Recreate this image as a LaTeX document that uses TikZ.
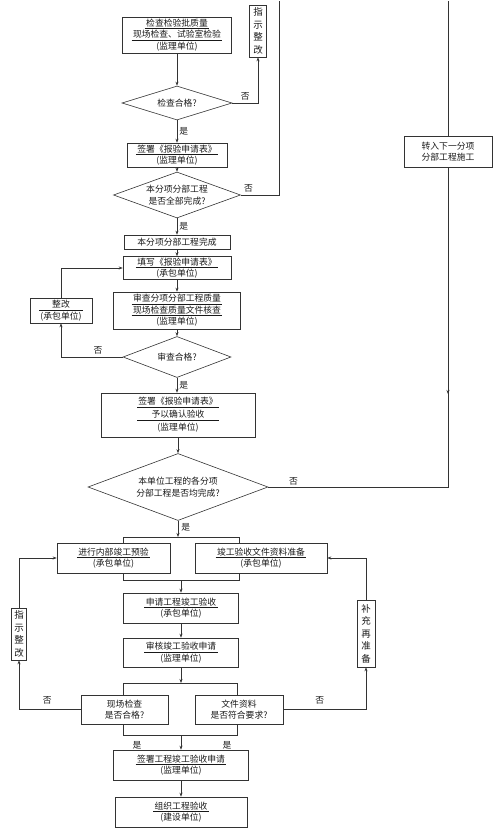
\documentclass[tikz,border=0pt]{standalone}
\usepackage{fontspec}
\newfontfamily\cjk{Noto Sans CJK SC}
\usetikzlibrary{shapes.geometric,arrows.meta}
\newcommand\myul[1]{\underline{\,#1\,}}
\newcommand\myulw[2]{\underline{\makebox[#1]{#2}}}
\begin{document}
\begin{tikzpicture}[x=1pt,y=-1pt,
  every node/.style={font=\cjk\fontsize{8.8}{11.5}\selectfont, text=black!90},
  box/.style={draw=black!80, line width=0.6pt, rectangle, inner sep=0pt, align=center},
  dia/.style={draw=black!80, line width=0.6pt, diamond, inner sep=0pt, align=center, aspect=2.7},
  vbox/.style={draw=black!80, line width=0.6pt, rectangle, inner sep=0pt, align=center, font=\cjk\fontsize{9.5}{12.5}\selectfont},
  ln/.style={draw=black!80, line width=0.6pt},
  arr/.style={ln, -{Stealth[length=4pt,width=3pt]}},
  lbl/.style={inner sep=0pt, font=\cjk\fontsize{8.8}{10}\selectfont}
]
\useasboundingbox (0,0) rectangle (497,840);

% upper column
\node[box, minimum width=109pt, minimum height=36pt] (n1) at (177,35) {\myul{检查检验批质量}\\\myul{现场检查、试验室检验}\\(监理单位)};
\node[vbox, minimum width=17pt, minimum height=52pt] (zs1) at (258,31) {指\\示\\整\\改};
\node[dia, minimum width=110pt, minimum height=34pt] (d1) at (177,103) {检查合格?};
\node[box, minimum width=100pt, minimum height=24pt] (n2) at (177,155) {\myul{签署《报验申请表》}\\(监理单位)};
\node[dia, minimum width=127pt, minimum height=46pt] (d2) at (177,195) {本分项分部工程\\是否全部完成?};
\node[box, minimum width=106pt, minimum height=14pt] (n3) at (177,242) {本分项分部工程完成};
\node[box, minimum width=108pt, minimum height=23pt] (n4) at (177,268) {\myul{填写《报验申请表》}\\(承包单位)};
\node[box, minimum width=62pt, minimum height=25pt] (zg) at (61,310.5) {\myulw{44pt}{整改}\\(承包单位)};
\node[box, minimum width=127pt, minimum height=37pt] (n5) at (177,310.5) {\myul{审查分项分部工程质量}\\\myul{现场检查质量文件核查}\\(监理单位)};
\node[dia, minimum width=108pt, minimum height=41pt] (d3) at (177,357) {审查合格?};
\node[box, minimum width=154pt, minimum height=44pt] (n6) at (178,415) {\myulw{82pt}{签署《报验申请表》}\\[1.5pt]\myulw{82pt}{予以确认验收}\\[1.5pt](监理单位)};
\node[dia, minimum width=180pt, minimum height=67pt] (d4) at (178,487) {本单位工程的各分项\\分部工程是否均完成?};
\node[box, minimum width=88pt, minimum height=31pt] (n7) at (448,151.5) {转入下一分项\\分部工程施工};

% lower part
\node[box, minimum width=113pt, minimum height=30pt] (n8) at (113.5,558) {\myul{进行内部竣工预验}\\(承包单位)};
\node[box, minimum width=132pt, minimum height=30pt] (n9) at (261,558) {\myul{竣工验收文件资料准备}\\(承包单位)};
\node[box, minimum width=115pt, minimum height=30pt] (n10) at (181,608) {\myul{申请工程竣工验收}\\(承包单位)};
\node[box, minimum width=115pt, minimum height=29pt] (n11) at (181,652.5) {\myul{审核竣工验收申请}\\(监理单位)};
\node[box, minimum width=87pt, minimum height=29pt] (n12) at (124.5,709.5) {现场检查\\是否合格?};
\node[box, minimum width=88pt, minimum height=29pt] (n13) at (239,709.5) {文件资料\\是否符合要求?};
\node[box, minimum width=135pt, minimum height=30pt] (n14) at (181,765) {\myul{签署工程竣工验收申请}\\(监理单位)};
\node[box, minimum width=132pt, minimum height=30pt] (n15) at (181,812) {\myul{组织工程验收}\\(建设单位)};
\node[vbox, minimum width=15pt, minimum height=52pt] (zs2) at (19,634) {指\\示\\整\\改};
\node[vbox, minimum width=18pt, minimum height=67pt] (bc) at (366,633.5) {补\\充\\再\\准\\备};

% coordinates
\coordinate (t1) at (279,1);
\coordinate (t2) at (448,1);
\coordinate (m1) at (448,387);
\coordinate (s1) at (180,537);
\coordinate (sL1) at (123,537);
\coordinate (sR1) at (239,537);
\coordinate (sL2) at (123,580);
\coordinate (sR2) at (239,580);
\coordinate (s2) at (181,580);
\coordinate (s3) at (181,683);
\coordinate (sL3) at (123,683);
\coordinate (sR3) at (237,683);
\coordinate (sL4) at (123,735);
\coordinate (sR4) at (237,735);
\coordinate (s4) at (181,735);

% upper connectors
\draw[arr] (n1) -- (d1);
\draw[arr] (d1) -- (n2) node[lbl, midway, right=2pt] (y1) {是};
\draw[arr] (d1.east) -| (zs1.south) node[lbl, pos=0.25, above=2pt] (f1) {否};
\draw[arr] (n2) -- (d2);
\draw[ln] (d2.east) -| (t1) node[lbl, pos=0.1, above=2pt] (f2) {否};
\draw[arr] (d2) -- (n3) node[lbl, midway, right=2pt] (y2) {是};
\draw[arr] (n3) -- (n4);
\draw[arr] (n4) -- (n5);
\draw[arr] (n5) -- (d3);
\draw[arr] (d3.west) -| (zg.south) node[lbl, pos=0.2, above=2pt] (f3) {否};
\draw[arr] (zg.north) |- (n4.west);
\draw[arr] (d3.south) -- (d3.south |- n6.north) node[lbl, midway, right=2pt] (y3) {是};
\draw[arr] (n6) -- (d4);
\draw[ln] (d4.east) -| (n7.south) node[lbl, pos=0.07, above=2pt] (f4) {否};
\draw[arr] (m1) -- ++(0,7);
\draw[ln] (n7.north) -- (t2);
\draw[arr] (d4.south) -- (d4.south |- s1) node[lbl, pos=0.4, right=3pt] (y4) {是};

% lower connectors
\draw[ln] (n8.north -| sL1) -- (sL1) -- (sR1) -- (n9.north -| sR1);
\draw[ln] (n8.south -| sL2) -- (sL2) -- (sR2) -- (n9.south -| sR2);
\draw[arr] (s2) -- (n10.north);
\draw[arr] (n10) -- (n11);
\draw[arr] (n11.south) -- (s3);
\draw[ln] (n12.north -| sL3) -- (sL3) -- (sR3) -- (n13.north -| sR3);
\draw[ln] (n12.south -| sL4) -- (sL4) -- (sR4) -- (n13.south -| sR4);
\draw[arr] (s4) -- (n14.north);
\node[lbl] (y5) at (137,745) {是};
\node[lbl] (y6) at (227,745) {是};
\draw[arr] (n14) -- (n15);
\draw[arr] (n12.west) -| (zs2.south) node[lbl, pos=0.27, above=5pt] (f5) {否};
\draw[arr] (zs2.north) |- (n8.west);
\draw[arr] (n13.east) -| (bc.south) node[lbl, pos=0.22, above=5pt] (f6) {否};
\draw[arr] (bc.north) |- (n9.east);
\end{tikzpicture}
\end{document}
